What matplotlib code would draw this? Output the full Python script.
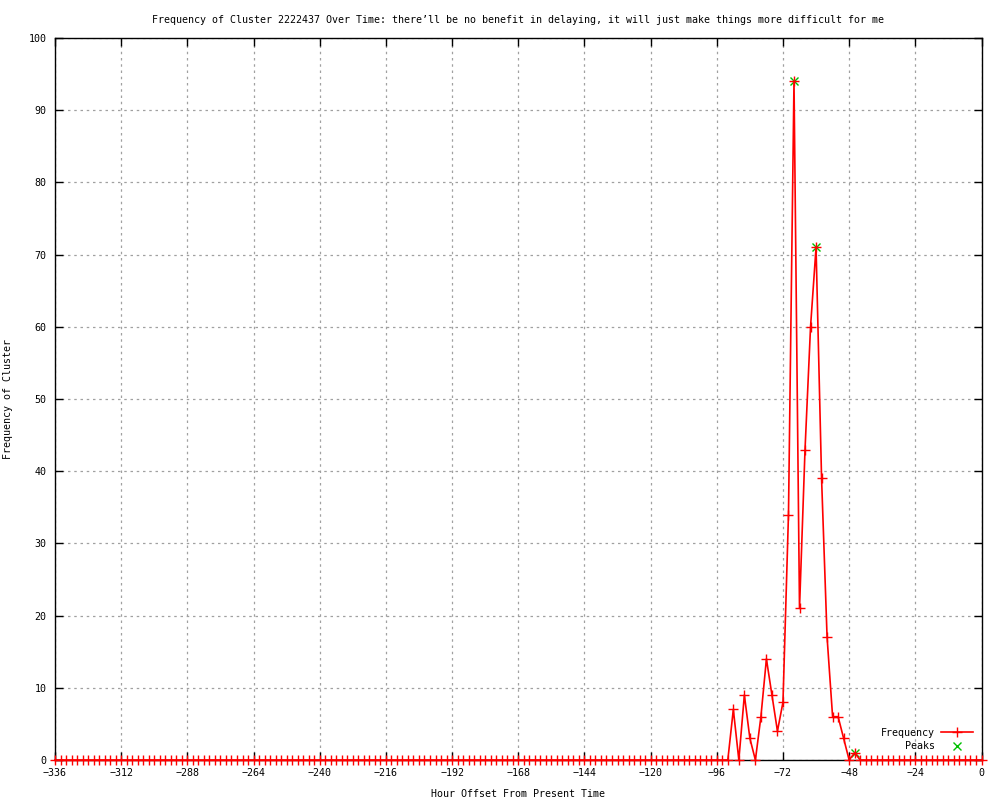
import matplotlib
matplotlib.use("Agg")
import matplotlib.pyplot as plt
import numpy as np

# hourly offsets (every 2 hours) and cluster counts
hours = list(range(-336, 2, 2))
counts = [
    0, 0, 0, 0, 0, 0, 0, 0, 0, 0, 0, 0, 0, 0, 0, 0, 0, 0, 0, 0, 0, 0, 0, 0,
    0, 0, 0, 0, 0, 0, 0, 0, 0, 0, 0, 0, 0, 0, 0, 0, 0, 0, 0, 0, 0, 0, 0, 0,
    0, 0, 0, 0, 0, 0, 0, 0, 0, 0, 0, 0, 0, 0, 0, 0, 0, 0, 0, 0, 0, 0, 0, 0,
    0, 0, 0, 0, 0, 0, 0, 0, 0, 0, 0, 0, 0, 0, 0, 0, 0, 0, 0, 0, 0, 0, 0, 0,
    0, 0, 0, 0, 0, 0, 0, 0, 0, 0, 0, 0, 0, 0, 0, 0, 0, 0, 0, 0, 0, 0, 0, 0,
    0, 0, 0,
    7, 0, 9, 3, 0, 6, 14, 9, 4, 8, 34, 94, 21, 43, 60, 71, 39, 17, 6, 6, 3, 0, 1,
    0, 0, 0, 0, 0, 0, 0, 0, 0, 0, 0, 0, 0, 0, 0, 0, 0, 0, 0, 0, 0, 0, 0,
]
peak_hours = [-68, -60, -46]
peak_counts = [94, 71, 1]

xticks = list(range(-336, 1, 24))
yticks = list(range(0, 101, 10))

title = ("Frequency of Cluster 2222437 Over Time: there\u2019ll be no benefit in delaying, "
         "it will just make things more difficult for me")

plt.rcParams['font.family'] = ['DejaVu Sans Mono']
fs = 7.2

fig = plt.figure(figsize=(10, 8), dpi=100)
ax = fig.add_axes([0.055, 0.05, 0.9265, 0.9025])

ax.plot(peak_hours, peak_counts, linestyle='none', marker='x', color='#00c000',
        markersize=6, markeredgewidth=1, label='Peaks', zorder=2)
ax.plot(hours, counts, color='red', linewidth=1.2, marker='+', markersize=7,
        markeredgewidth=1, label='Frequency', zorder=3, clip_on=False)

ax.set_xlim(-336, 0)
ax.set_ylim(0, 100)
ax.set_xticks(xticks)
ax.set_yticks(yticks)
ax.set_xticklabels([str(t).replace('-', '\u2212') for t in xticks], fontsize=fs)
ax.set_yticklabels([str(t) for t in yticks], fontsize=fs)
ax.tick_params(direction='in', length=6, width=1, top=True, right=True, pad=6)
ax.grid(True, color='#a0a0a0', linestyle=(0, (2, 3)), linewidth=0.9)
for s in ax.spines.values():
    s.set_linewidth(1)

ax.set_title(title, fontsize=fs, pad=11)
ax.set_xlabel('Hour Offset From Present Time', fontsize=fs, labelpad=8)
ax.set_ylabel('Frequency of Cluster', fontsize=fs)
ax.yaxis.set_label_coords(-0.0453, 0.5)

handles, labels = ax.get_legend_handles_labels()
leg = ax.legend(handles[::-1], labels[::-1], loc='lower right', fontsize=fs,
                frameon=False, markerfirst=False, handlelength=3.2,
                labelspacing=0.35, borderaxespad=0.5, handletextpad=0.6)

fig.savefig('out.png', dpi=100)
